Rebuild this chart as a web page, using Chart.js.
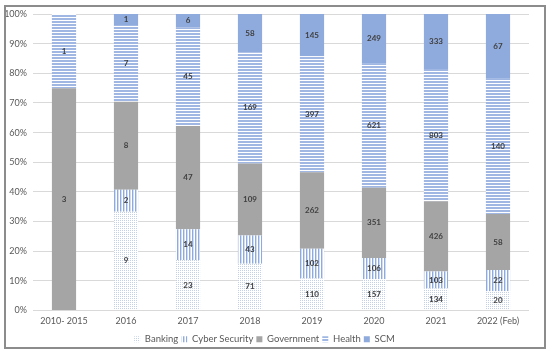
<!DOCTYPE html>
<html>
<head>
<meta charset="utf-8">
<script src="https://cdn.jsdelivr.net/npm/chart.js@4"></script>
<style>
  html, body { margin: 0; padding: 0; background: #fff; }
  #wrap { position: relative; width: 550px; height: 357px; }
  #frame { position: absolute; left: 4px; top: 5px; width: 538px; height: 340px; border: 2px solid #8c8c8c; pointer-events: none; }
</style>
</head>
<body>
<div id="wrap">
  <canvas id="grafico" width="550" height="357"></canvas>
  <div id="frame"></div>
</div>
<script>
const categorias = ['2010- 2015', '2016', '2017', '2018', '2019', '2020', '2021', '2022 (Feb)'];
const banking = [0, 9, 23, 71, 110, 157, 134, 20];
const ciber = [0, 2, 14, 43, 102, 106, 103, 22];
const gobierno = [3, 8, 47, 109, 262, 351, 426, 58];
const salud = [1, 7, 45, 169, 397, 621, 803, 140];
const scm = [0, 1, 6, 58, 145, 249, 333, 67];
const ticksY = [0, 10, 20, 30, 40, 50, 60, 70, 80, 90, 100];

const ctx = document.getElementById('grafico').getContext('2d');

// patrones tipo Excel
function patron(w, h, dibujar) {
    const c = document.createElement('canvas');
    c.width = w; c.height = h;
    const g = c.getContext('2d');
    g.fillStyle = '#ffffff';
    g.fillRect(0, 0, w, h);
    dibujar(g);
    return ctx.createPattern(c, 'repeat');
}

const patPuntos = patron(2, 2, g => {
    g.fillStyle = '#c3d0e8';
    g.fillRect(0, 0, 1, 1);
});
const patVertical = patron(3, 3, g => {
    g.fillStyle = '#8faadc';
    g.fillRect(0, 0, 1, 3);
    g.fillStyle = '#d2ddf1';
    g.fillRect(1, 0, 1, 3);
});
const patHorizontal = patron(3, 3, g => {
    g.fillStyle = '#9fb7e2';
    g.fillRect(0, 0, 3, 2);
});

const totales = categorias.map((_, i) => banking[i] + ciber[i] + gobierno[i] + salud[i] + scm[i]);
const pct = arr => arr.map((v, i) => v / totales[i] * 100);

const series = [
    { label: 'Banking', raw: banking, color: patPuntos },
    { label: 'Cyber Security', raw: ciber, color: patVertical },
    { label: 'Government', raw: gobierno, color: '#a5a5a5' },
    { label: 'Health', raw: salud, color: patHorizontal },
    { label: 'SCM', raw: scm, color: '#8faadc' }
];

// etiquetas de valor en el centro de cada segmento
const etiquetas = {
    id: 'etiquetas',
    afterDatasetsDraw(chart) {
        const c = chart.ctx;
        c.save();
        c.font = 'bold 8px Lato, sans-serif';
        c.fillStyle = '#404040';
        c.textAlign = 'center';
        c.textBaseline = 'middle';
        chart.data.datasets.forEach((ds, di) => {
            const meta = chart.getDatasetMeta(di);
            meta.data.forEach((bar, i) => {
                const v = ds.raw[i];
                if (!v) return;
                const y = (bar.y + bar.base) / 2;
                c.fillText(String(v), bar.x, y);
            });
        });
        c.restore();
    }
};

const fondo = {
    id: 'fondo',
    beforeDraw(chart) {
        const c = chart.ctx;
        c.save();
        c.fillStyle = '#fff';
        c.fillRect(0, 0, chart.width, chart.height);
        c.restore();
    }
};

new Chart(ctx, {
    type: 'bar',
    data: {
        labels: categorias,
        datasets: series.map(s => ({
            label: s.label,
            raw: s.raw,
            data: pct(s.raw),
            backgroundColor: s.color,
            borderWidth: 0,
            barPercentage: 0.39,
            categoryPercentage: 1
        }))
    },
    options: {
        responsive: false,
        animation: false,
        layout: { padding: { top: 14, right: 21, bottom: 3, left: 0 } },
        plugins: {
            tooltip: { enabled: false },
            legend: {
                position: 'bottom',
                labels: {
                    boxWidth: 6,
                    boxHeight: 6,
                    padding: 3,
                    color: '#595959',
                    font: { family: 'Lato, sans-serif', size: 9.5 }
                }
            }
        },
        scales: {
            x: {
                stacked: true,
                grid: { display: false, drawTicks: false },
                border: { display: false },
                ticks: { color: '#595959', font: { family: 'Lato, sans-serif', size: 9, lineHeight: 1 }, maxRotation: 0, padding: 6 }
            },
            y: {
                stacked: true,
                min: 0,
                max: 100,
                afterFit(scale) { scale.width = 33; },
                afterBuildTicks(scale) { scale.ticks = ticksY.map(v => ({ value: v })); },
                grid: { color: '#d9d9d9', drawTicks: false },
                border: { display: false },
                ticks: {
                    color: '#595959',
                    padding: 6,
                    font: { family: 'Lato, sans-serif', size: 9 },
                    callback: v => v + '%'
                }
            }
        }
    },
    plugins: [fondo, etiquetas]
});
</script>
</body>
</html>
